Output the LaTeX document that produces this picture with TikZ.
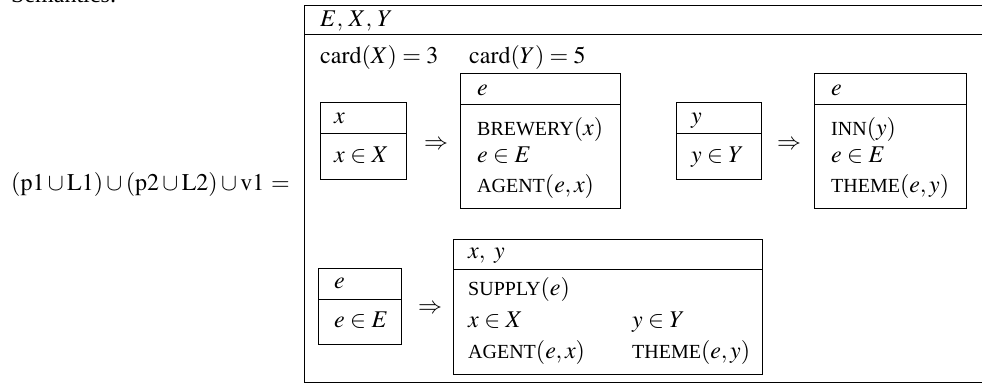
\documentclass[tikz,border=0pt]{standalone}
\usepackage{mathptmx}
\usepackage{fontspec}
\setmainfont{Liberation Serif}
\newcommand{\smcp}[1]{{\fontsize{20}{24}\selectfont #1}}
\tikzset{
  frame/.style={draw, line width=0.9pt, inner sep=0pt, anchor=north west},
  divline/.style={line width=0.9pt},
  txt/.style={anchor=base west, inner sep=0pt},
  impl/.style={anchor=base, inner sep=0pt}
}
% name, left, top, divider, right, bottom
\newcommand{\drsbox}[6]{%
  \node[frame, minimum width={(#5-#2)*1pt}, minimum height={(#6-#3)*1pt}] (#1) at (#2,#3) {};
  \draw[divline] (#1.west |- 0,#4) -- (#1.east |- 0,#4);
}
\begin{document}
\begin{tikzpicture}[x=1pt, y=-1pt, font=\fontsize{24}{29}\selectfont]
\useasboundingbox (0,0) rectangle (982,383);
\clip (0,0) rectangle (982,383);
\node[txt] (sem) at (11,2) {Semantics:};
\node[txt] (lhs) at (11,190) {$(\mathrm{p}1 \cup \mathrm{L}1) \cup (\mathrm{p}2 \cup \mathrm{L}2) \cup \mathrm{v}1 \mkern1mu=$};
% outer box
\node[frame, minimum width=720pt, minimum height=377pt] (outer) at (304,5) {};
\draw[divline] (outer.west |- 0,34) -- (outer.east |- 0,34);
\node[txt] (univ) at (320,26) {$E,\mkern2mu X,\mkern2mu Y$};
\node[txt] (cx) at (320,63) {$\mathrm{card}(X) = 3$};
\node[txt] (cy) at (469,63) {$\mathrm{card}(Y) = 5$};
% box x
\drsbox{bx}{320}{102}{133}{406}{179}
\node[txt] (bxh) at (334,123) {$x$};
\node[txt] (bxb) at (334,162) {$x \in X$};
\node[impl] (i1) at (436,149) {$\Rightarrow$};
% box e brewery
\drsbox{be}{460}{73}{104}{620}{208}
\node[txt] (beh) at (477,95) {$e$};
\node[txt] (be1) at (477,135) {\smcp{BREWERY}$(x)$};
\node[txt] (be2) at (477,162) {$e \in E$};
\node[txt] (be3) at (477,192) {\smcp{AGENT}$(e,x)$};
% box y
\drsbox{by}{676}{102}{133}{761}{179}
\node[txt] (byh) at (691,123) {$y$};
\node[txt] (byb) at (691,162) {$y \in Y$};
\node[impl] (i2) at (789,149) {$\Rightarrow$};
% box e inn
\drsbox{bi}{814}{73}{104}{966}{208}
\node[txt] (bih) at (831,95) {$e$};
\node[txt] (bi1) at (831,135) {\smcp{INN}$(y)$};
\node[txt] (bi2) at (831,162) {$e \in E$};
\node[txt] (bi3) at (831,192) {\smcp{THEME}$(e,y)$};
% box e bottom
\drsbox{bee}{318}{268}{299}{401}{344}
\node[txt] (beeh) at (334,288) {$e$};
\node[txt] (beeb) at (334,327) {$e \in E$};
\node[impl] (i3) at (430,313) {$\Rightarrow$};
% box x,y
\drsbox{bxy}{453}{239}{269}{762}{374}
\node[txt] (bxyh) at (468,258) {$x,\ y$};
\node[txt] (bxy1) at (468,295) {\smcp{SUPPLY}$(e)$};
\node[txt] (bxy2) at (468,327) {$x \in X$};
\node[txt] (bxy3) at (468,358) {\smcp{AGENT}$(e,x)$};
\node[txt] (bxy4) at (632,327) {$y \in Y$};
\node[txt] (bxy5) at (632,358) {\smcp{THEME}$(e,y)$};
\end{tikzpicture}
\end{document}
